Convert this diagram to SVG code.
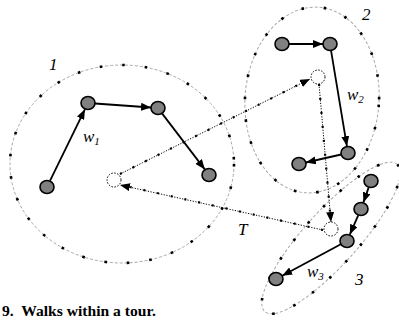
<svg xmlns="http://www.w3.org/2000/svg" width="399" height="320" viewBox="0 0 399 320">
  <style>
    .ring { fill: none; stroke: #a8a8a8; stroke-width: 1; stroke-dasharray: 3 2; }
    .ring-dots { fill: none; stroke: #000; stroke-width: 2.6; stroke-dasharray: 2.6 20; }
    .node { fill: #808080; stroke: #000; stroke-width: 1.6; }
    .stop { fill: none; stroke: #000; stroke-width: 1; stroke-dasharray: 1.5 1.5; }
    .walk { fill: none; stroke: #000; stroke-width: 1.8; marker-end: url(#head); }
    .tour { fill: none; stroke: #000; stroke-width: 1; stroke-dasharray: 1.2 1.5; marker-end: url(#head); }
    .tour-dots { fill: none; stroke: #000; stroke-width: 2.2; stroke-dasharray: 2 12; }
    .lbl { font-family: "Liberation Serif", "Times New Roman", "DejaVu Serif", serif; font-style: italic; font-size: 17px; fill: #000; }
    .sub { font-size: 11px; }
    .caption { font-family: "Liberation Serif", "Times New Roman", "DejaVu Serif", serif; font-weight: bold; font-size: 15.6px; fill: #000; white-space: pre; }
  </style>
  <defs>
    <marker id="head" markerWidth="10" markerHeight="8" refX="10" refY="4" orient="auto" markerUnits="userSpaceOnUse">
      <path d="M0,0 L10,4 L0,8 z" fill="#000"/>
    </marker>
  </defs>

  <!-- clusters -->
  <g id="cluster-1">
    <ellipse class="ring" cx="122" cy="164" rx="112" ry="99"/>
    <ellipse class="ring-dots" cx="122" cy="164" rx="112" ry="99"/>
    <text class="lbl" x="49" y="70">1</text>
  </g>
  <g id="cluster-2">
    <ellipse class="ring" cx="312" cy="100" rx="67" ry="93" transform="rotate(4 312 100)"/>
    <ellipse class="ring-dots" cx="312" cy="100" rx="67" ry="93" transform="rotate(4 312 100)"/>
    <text class="lbl" x="362" y="20">2</text>
  </g>
  <g id="cluster-3">
    <ellipse class="ring" cx="331" cy="238" rx="99" ry="27" transform="rotate(-48 331 238)"/>
    <ellipse class="ring-dots" cx="331" cy="238" rx="99" ry="27" transform="rotate(-48 331 238)"/>
    <text class="lbl" x="355" y="285">3</text>
  </g>

  <!-- connectors -->
  <g id="connectors">
    <!-- walk w1 -->
    <line class="walk" x1="50.1" y1="180.7" x2="84.9" y2="109.3"/>
    <line class="walk" x1="95" y1="103.5" x2="151" y2="107.5"/>
    <line class="walk" x1="162.2" y1="113.6" x2="204.8" y2="169.4"/>
    <!-- walk w2 -->
    <line class="walk" x1="289" y1="44" x2="323" y2="44"/>
    <line class="walk" x1="331.1" y1="50.9" x2="346.9" y2="146.1"/>
    <line class="walk" x1="341.2" y1="154.5" x2="305.8" y2="162.5"/>
    <!-- walk w3 -->
    <line class="walk" x1="368.6" y1="187.6" x2="363.4" y2="202.4"/>
    <line class="walk" x1="358.2" y1="215.4" x2="349.8" y2="234.6"/>
    <line class="walk" x1="340.8" y1="244.3" x2="282.2" y2="275.7"/>
    <!-- tour T -->
    <line class="tour" x1="120" y1="174" x2="310" y2="79"/>
    <line class="tour-dots" x1="120" y1="174" x2="304" y2="82"/>
    <line class="tour" x1="319" y1="84" x2="331" y2="222"/>
    <line class="tour-dots" x1="319" y1="84" x2="330" y2="212"/>
    <line class="tour" x1="323" y1="230" x2="120" y2="185"/>
    <line class="tour-dots" x1="323" y1="230" x2="130" y2="187"/>
  </g>

  <!-- tour stops -->
  <g id="stop-1"><circle class="stop" cx="114" cy="180" r="7"/></g>
  <g id="stop-2"><circle class="stop" cx="318" cy="77" r="7"/></g>
  <g id="stop-3"><circle class="stop" cx="331" cy="229" r="7"/></g>

  <!-- nodes -->
  <g id="n1a"><ellipse class="node" cx="47" cy="187" rx="7" ry="6.5"/></g>
  <g id="n1b"><ellipse class="node" cx="88" cy="103" rx="7" ry="6.5"/></g>
  <g id="n1c"><ellipse class="node" cx="158" cy="108" rx="7" ry="6.5"/></g>
  <g id="n1d"><ellipse class="node" cx="209" cy="175" rx="7" ry="6.5"/></g>
  <g id="n2a"><ellipse class="node" cx="282" cy="44" rx="7" ry="6.5"/></g>
  <g id="n2b"><ellipse class="node" cx="330" cy="44" rx="7" ry="6.5"/></g>
  <g id="n2c"><ellipse class="node" cx="348" cy="153" rx="7" ry="6.5"/></g>
  <g id="n2d"><ellipse class="node" cx="299" cy="164" rx="7" ry="6.5"/></g>
  <g id="n3a"><ellipse class="node" cx="371" cy="181" rx="7" ry="6.5"/></g>
  <g id="n3b"><ellipse class="node" cx="361" cy="209" rx="7" ry="6.5"/></g>
  <g id="n3c"><ellipse class="node" cx="347" cy="241" rx="7" ry="6.5"/></g>
  <g id="n3d"><ellipse class="node" cx="276" cy="279" rx="7" ry="6.5"/></g>

  <!-- labels -->
  <text class="lbl" x="83" y="142">w<tspan class="sub" dy="3">1</tspan></text>
  <text class="lbl" x="347" y="100">w<tspan class="sub" dy="3">2</tspan></text>
  <text class="lbl" x="307" y="277">w<tspan class="sub" dy="3">3</tspan></text>
  <text class="lbl" x="238" y="235">T</text>

  <text class="caption" x="2" y="316">9.  Walks within a tour.</text>
</svg>
